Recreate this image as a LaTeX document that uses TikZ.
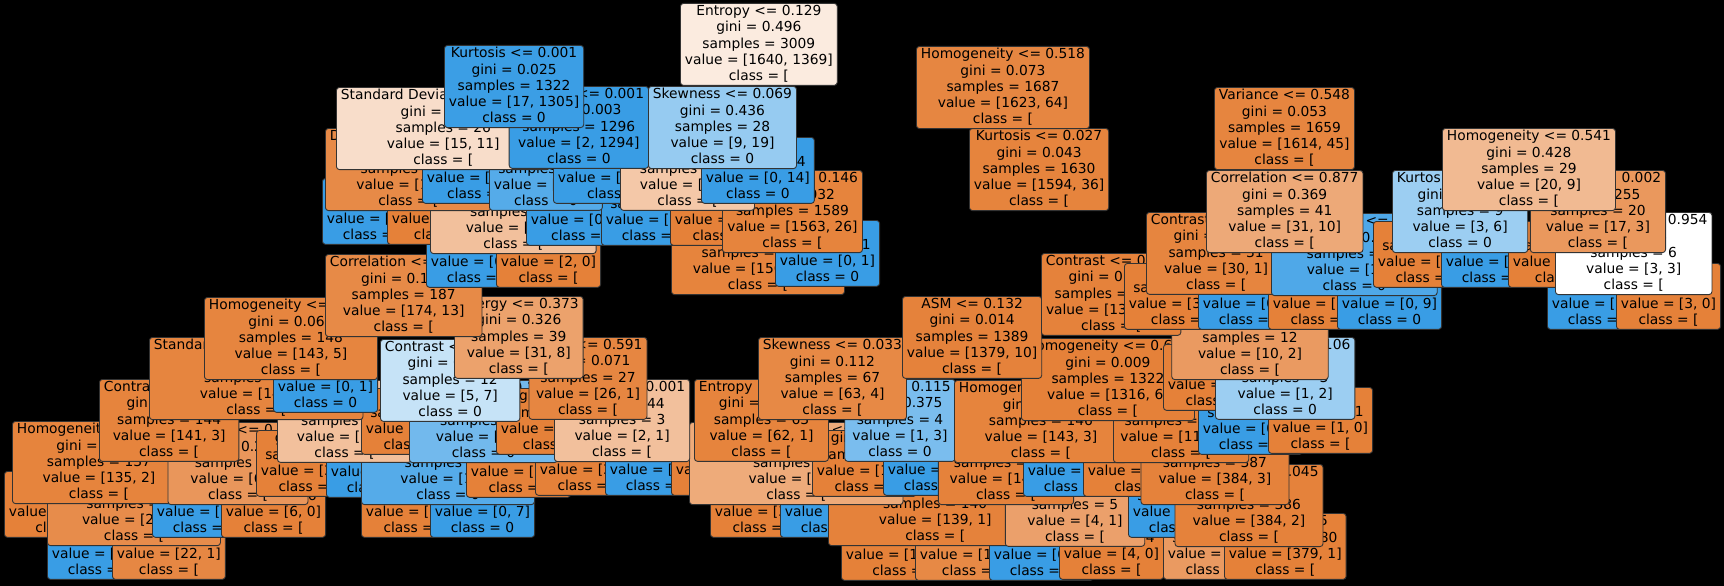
\documentclass[tikz,border=0pt]{standalone}
\usepackage{fontspec}
\setmainfont{DejaVu Sans}
\definecolor{cO}{RGB}{229,129,57}
\definecolor{cB}{RGB}{57,157,229}
\newcommand\mystrut{\rule[-2.85pt]{0pt}{16.25pt}}
\newcommand\LF[4]{gini = #1\\samples = #2\\value = [#3]\\class = #4}
\newcommand\IN[5]{#1\\gini = #2\\samples = #3\\value = [#4]\\class = #5}
\newcommand\bx[6]{\node[tb,fill=#5,anchor=#2] (#1) at (#3,#4) {#6};}
\tikzset{tb/.style={draw=black!80, line width=0.9pt, rounded corners=3pt,
  inner xsep=4.5pt, inner ysep=1.9pt, align=center,
  font=\fontsize{13.8}{16.25}\selectfont,
  execute at begin node=\mystrut, execute at end node=\mystrut}}
\begin{document}
\begin{tikzpicture}[x=1pt,y=-1pt]
\fill[black] (0,0) rectangle (1724,586);
\useasboundingbox (0,0) rectangle (1724,586);
% depth 12
\bx{n1}{north west}{47}{513}{cB}{\LF{0.0}{1}{0, 1}{0}}
\bx{n2}{north west}{112}{513}{cO!95}{\LF{0.083}{23}{22, 1}{[}}
\bx{n3}{north west}{841}{514}{cO}{\LF{0.0}{123}{123, 0}{[}}
\bx{n4}{north west}{915}{514}{cO!94}{\LF{0.111}{17}{16, 1}{[}}
\bx{n5}{north west}{989}{514}{cB}{\LF{0.0}{1}{0, 1}{0}}
\bx{n6}{north west}{1059}{513}{cO}{\LF{0.0}{4}{4, 0}{[}}
\bx{n7}{north west}{1163}{513}{cO!80}{\LF{0.278}{6}{5, 1}{[}}
\bx{n8}{north west}{1224}{513}{cO!100}{\LF{0.005}{380}{379, 1}{[}}
% depth 11
\bx{n9}{north west}{4}{471}{cO}{\LF{0.0}{113}{113, 0}{[}}
\bx{n10}{north west}{47}{463}{cO!91}{\IN{Homogeneity <= 0.512}{0.153}{24}{22, 2}{[}}
\bx{n11}{north west}{152}{471}{cB}{\LF{0.0}{1}{0, 1}{0}}
\bx{n12}{north west}{221}{471}{cO}{\LF{0.0}{6}{6, 0}{[}}
\bx{n13}{north west}{361}{471}{cO}{\LF{0.0}{1}{1, 0}{[}}
\bx{n14}{north west}{430}{471}{cB}{\LF{0.0}{7}{0, 7}{0}}
\bx{n15}{north west}{710}{471}{cO}{\LF{0.0}{3}{3, 0}{[}}
\bx{n16}{north west}{780}{471}{cB}{\LF{0.0}{1}{0, 1}{0}}
\bx{n17}{north west}{828}{463}{cO!99}{\IN{Standard Deviation <= 0.537}{0.014}{140}{139, 1}{[}}
\bx{n18}{north}{1075}{464}{cO!75}{\IN{Contrast <= 0.248}{0.32}{5}{4, 1}{[}}
\bx{n19}{north west}{1128}{471}{cB}{\LF{0.0}{1}{0, 1}{0}}
\bx{n20}{north}{1249}{464}{cO!99}{\IN{Skewness <= 0.045}{0.01}{386}{384, 2}{[}}
% depth 10
\bx{n21}{north west}{12}{421}{cO!98}{\IN{Homogeneity <= 0.521}{0.029}{137}{135, 2}{[}}
\bx{n22}{north}{238}{422}{cO!83}{\IN{Variance <= 0.507}{0.245}{7}{6, 1}{[}}
\bx{n23}{north west}{256}{430}{cO}{\LF{0.0}{2}{2, 0}{[}}
\bx{n24}{north west}{326}{431}{cB}{\LF{0.0}{1}{0, 1}{0}}
\bx{n25}{north west}{361}{422}{cB!86}{\IN{Homogeneity <= 0.583}{0.219}{8}{1, 7}{0}}
\bx{n26}{north west}{466}{431}{cO}{\LF{0.0}{1}{1, 0}{[}}
\bx{n27}{north west}{535}{429}{cO}{\LF{0.0}{2}{2, 0}{[}}
\bx{n28}{north west}{605}{429}{cB}{\LF{0.0}{1}{0, 1}{0}}
\bx{n29}{north west}{671}{429}{cO}{\LF{0.0}{59}{59, 0}{[}}
\bx{n30}{north west}{689}{422}{cO!67}{\IN{Standard Deviation <= 0.226}{0.375}{4}{3, 1}{[}}
\bx{n31}{north west}{812}{430}{cO}{\LF{0.0}{1}{1, 0}{[}}
\bx{n32}{north west}{883}{429}{cB}{\LF{0.0}{3}{0, 3}{0}}
\bx{n33}{north}{1006}{422}{cO!99}{\IN{Kurtosis <= 0.015}{0.027}{145}{143, 2}{[}}
\bx{n34}{north west}{1023}{430}{cB}{\LF{0.0}{1}{0, 1}{0}}
\bx{n35}{north west}{1083}{430}{cO}{\LF{0.0}{789}{789, 0}{[}}
\bx{n36}{north}{1215}{422}{cO!99}{\IN{Skewness <= 0.061}{0.015}{387}{384, 3}{[}}
% depth 9
\bx{n37}{north west}{99}{379}{cO!98}{\IN{Contrast <= 0.529}{0.041}{144}{141, 3}{[}}
\bx{n38}{north west}{277}{380}{cO!50}{\IN{Entropy <= 0.224}{0.444}{3}{2, 1}{[}}
\bx{n39}{north west}{361}{388}{cO}{\LF{0.0}{3}{3, 0}{[}}
\bx{n40}{north west}{409}{380}{cB!71}{\IN{Skewness <= 0.118}{0.346}{9}{2, 7}{0}}
\bx{n41}{north west}{496}{388}{cO}{\LF{0.0}{24}{24, 0}{[}}
\bx{n42}{north west}{554}{379}{cO!50}{\IN{Kurtosis <= 0.001}{0.444}{3}{2, 1}{[}}
\bx{n43}{north west}{694}{379}{cO!98}{\IN{Entropy <= 0.317}{0.031}{63}{62, 1}{[}}
\bx{n44}{north}{900}{379}{cB!67}{\IN{ASM <= 0.115}{0.375}{4}{1, 3}{0}}
\bx{n45}{north west}{954}{380}{cO!98}{\IN{Homogeneity <= 0.563}{0.04}{146}{143, 3}{[}}
\bx{n46}{north west}{1113}{380}{cO!100}{\IN{Kurtosis <= 0.004}{0.005}{1176}{1173, 3}{[}}
\bx{n47}{north west}{1198}{388}{cB}{\LF{0.0}{2}{0, 2}{0}}
\bx{n48}{north west}{1268}{387}{cO}{\LF{0.0}{1}{1, 0}{[}}
% depth 8
\bx{n49}{north west}{149}{337}{cO!97}{\IN{Standard Deviation <= 0.371}{0.053}{147}{143, 4}{[}}
\bx{n50}{north west}{273}{346}{cB}{\LF{0.0}{1}{0, 1}{0}}
\bx{n51}{north west}{380}{339}{cB!29}{\IN{Contrast <= 0.338}{0.486}{12}{5, 7}{0}}
\bx{n52}{north}{588}{337}{cO!96}{\IN{Mean <= 0.591}{0.071}{27}{26, 1}{[}}
\bx{n53}{north west}{758}{337}{cO!94}{\IN{Skewness <= 0.033}{0.112}{67}{63, 4}{[}}
\bx{n54}{north west}{1021}{338}{cO!100}{\IN{Homogeneity <= 0.602}{0.009}{1322}{1316, 6}{[}}
\bx{n55}{north west}{1163}{344}{cO}{\LF{0.0}{9}{9, 0}{[}}
\bx{n56}{north west}{1215}{337}{cB!50}{\IN{Contrast <= 0.106}{0.444}{3}{1, 2}{0}}
% depth 7
\bx{n57}{north west}{204}{297}{cO!97}{\IN{Homogeneity <= 0.557}{0.065}{148}{143, 5}{[}}
\bx{n58}{north west}{454}{296}{cO!74}{\IN{Energy <= 0.373}{0.326}{39}{31, 8}{[}}
\bx{n59}{north west}{902}{296}{cO!99}{\IN{ASM <= 0.132}{0.014}{1389}{1379, 10}{[}}
\bx{n60}{north}{1250}{297}{cO!80}{\IN{Correlation <= 0.913}{0.278}{12}{10, 2}{[}}
% depth 6
\bx{n61}{north west}{325}{254}{cO!93}{\IN{Correlation <= 0.875}{0.129}{187}{174, 13}{[}}
\bx{n62}{north west}{1041}{253}{cO!99}{\IN{Contrast <= 0.504}{0.017}{1401}{1389, 12}{[}}
\bx{n63}{north west}{1124}{263}{cO}{\LF{0.0}{30}{30, 0}{[}}
\bx{n64}{north west}{1198}{263}{cB}{\LF{0.0}{1}{0, 1}{0}}
\bx{n65}{north west}{1268}{263}{cO}{\LF{0.0}{1}{1, 0}{[}}
\bx{n66}{north west}{1337}{263}{cB}{\LF{0.0}{9}{0, 9}{0}}
\bx{n67}{north west}{1547}{263}{cB}{\LF{0.0}{3}{0, 3}{0}}
\bx{n68}{north west}{1616}{263}{cO}{\LF{0.0}{3}{3, 0}{[}}
% depth 5
\bx{n69}{north west}{426}{221}{cB}{\LF{0.0}{1}{0, 1}{0}}
\bx{n70}{north west}{496}{221}{cO}{\LF{0.0}{2}{2, 0}{[}}
\bx{n71}{north west}{671}{212}{cO!98}{\IN{Homogeneity <= 0.548}{0.031}{1588}{1563, 25}{[}}
\bx{n72}{north west}{775}{220}{cB}{\LF{0.0}{1}{0, 1}{0}}
\bx{n73}{north west}{1146}{212}{cO!97}{\IN{Contrast <= 0.431}{0.062}{31}{30, 1}{[}}
\bx{n74}{north west}{1271}{213}{cB!89}{\IN{Dissimilarity <= 0.075}{0.18}{10}{1, 9}{0}}
\bx{n75}{north west}{1373}{221}{cO}{\LF{0.0}{3}{3, 0}{[}}
\bx{n76}{north west}{1441}{221}{cB}{\LF{0.0}{6}{0, 6}{0}}
\bx{n77}{north west}{1508}{221}{cO}{\LF{0.0}{14}{14, 0}{[}}
\bx{n78}{north west}{1555}{212}{white}{\IN{Correlation <= 0.954}{0.5}{6}{3, 3}{[}}
% depth 4
\bx{n79}{north west}{322}{178}{cB}{\LF{0.0}{1}{0, 1}{0}}
\bx{n80}{north west}{387}{178}{cO}{\LF{0.0}{15}{15, 0}{[}}
\bx{n81}{north west}{430}{171}{cO!50}{\IN{Dissimilarity <= 0.134}{0.444}{3}{2, 1}{[}}
\bx{n82}{north west}{526}{179}{cB}{\LF{0.0}{13}{0, 13}{0}}
\bx{n83}{north west}{601}{179}{cB}{\LF{0.0}{5}{0, 5}{0}}
\bx{n84}{north west}{670}{179}{cO}{\LF{0.0}{9}{9, 0}{[}}
\bx{n85}{north west}{722}{170}{cO!98}{\IN{Variance <= 0.146}{0.032}{1589}{1563, 26}{[}}
\bx{n86}{north west}{1206}{170}{cO!68}{\IN{Correlation <= 0.877}{0.369}{41}{31, 10}{[}}
\bx{n87}{north west}{1392}{170}{cB!50}{\IN{Kurtosis <= 0.013}{0.444}{9}{3, 6}{0}}
\bx{n88}{north east}{1666}{170}{cO!82}{\IN{Kurtosis <= 0.002}{0.255}{20}{17, 3}{[}}
% depth 3
\bx{n89}{north west}{325}{128}{cO!93}{\IN{Dissimilarity <= 0.216}{0.117}{16}{15, 1}{[}}
\bx{n90}{north west}{422}{137}{cB}{\LF{0.0}{10}{0, 10}{0}}
\bx{n91}{north west}{489}{128}{cB!86}{\IN{ASM <= 0.009}{0.219}{16}{2, 14}{0}}
\bx{n92}{north west}{553}{137}{cB}{\LF{0.0}{1280}{0, 1280}{0}}
\bx{n93}{north west}{620}{128}{cO!44}{\IN{Entropy <= 0.108}{0.459}{14}{9, 5}{[}}
\bx{n94}{north west}{701}{137}{cB}{\LF{0.0}{14}{0, 14}{0}}
\bx{n95}{north west}{969}{128}{cO!98}{\IN{Kurtosis <= 0.027}{0.043}{1630}{1594, 36}{[}}
\bx{n96}{north west}{1442}{128}{cO!55}{\IN{Homogeneity <= 0.541}{0.428}{29}{20, 9}{[}}
% depth 2
\bx{n97}{north west}{336}{87}{cO!27}{\IN{Standard Deviation <= 0.282}{0.488}{26}{15, 11}{[}}
\bx{n98}{north east}{649}{86}{cB!100}{\IN{Contrast <= 0.001}{0.003}{1296}{2, 1294}{0}}
\bx{n99}{north west}{648}{86}{cB!53}{\IN{Skewness <= 0.069}{0.436}{28}{9, 19}{0}}
\bx{n100}{north west}{1214}{87}{cO!97}{\IN{Variance <= 0.548}{0.053}{1659}{1614, 45}{[}}
% depth 1
\bx{n101}{north west}{444}{45}{cB!99}{\IN{Kurtosis <= 0.001}{0.025}{1322}{17, 1305}{0}}
\bx{n102}{north west}{916}{46}{cO!96}{\IN{Homogeneity <= 0.518}{0.073}{1687}{1623, 64}{[}}
% depth 0
\bx{n103}{north west}{680}{3}{cO!16}{\IN{Entropy <= 0.129}{0.496}{3009}{1640, 1369}{[}}
\end{tikzpicture}
\end{document}
